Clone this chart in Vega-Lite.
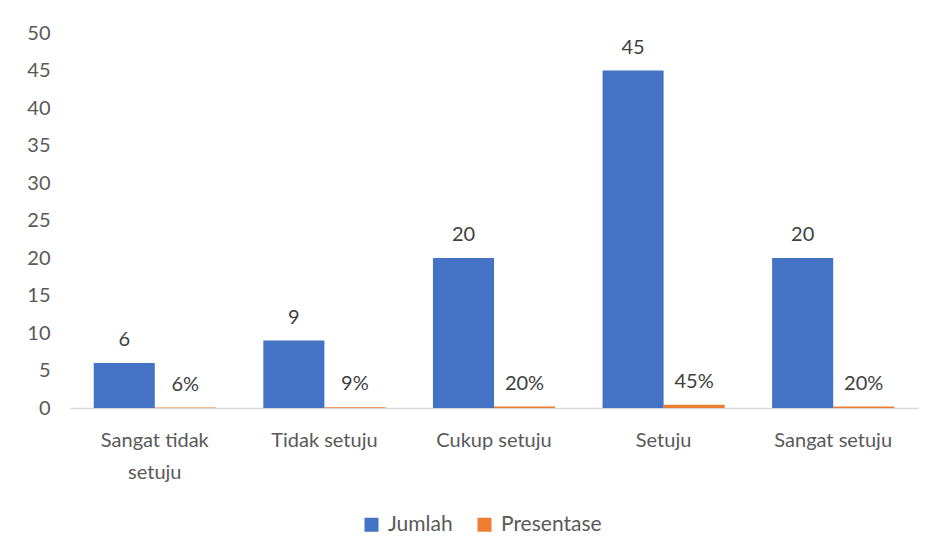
{
  "$schema": "https://vega.github.io/schema/vega-lite/v6.json",
  "autosize": "none",
  "width": 848,
  "height": 375,
  "padding": {"left": 70, "top": 33, "right": 16, "bottom": 148},
  "background": "white",
  "config": {"view": {"stroke": null}, "font": "Lato"},
  "data": {"values": [
    {"category": "Sangat tidak setuju", "series": "Jumlah", "value": 6, "label": "6"},
    {"category": "Sangat tidak setuju", "series": "Presentase", "value": 0.06, "label": "6%"},
    {"category": "Tidak setuju", "series": "Jumlah", "value": 9, "label": "9"},
    {"category": "Tidak setuju", "series": "Presentase", "value": 0.09, "label": "9%"},
    {"category": "Cukup setuju", "series": "Jumlah", "value": 20, "label": "20"},
    {"category": "Cukup setuju", "series": "Presentase", "value": 0.2, "label": "20%"},
    {"category": "Setuju", "series": "Jumlah", "value": 45, "label": "45"},
    {"category": "Setuju", "series": "Presentase", "value": 0.45, "label": "45%"},
    {"category": "Sangat setuju", "series": "Jumlah", "value": 20, "label": "20"},
    {"category": "Sangat setuju", "series": "Presentase", "value": 0.2, "label": "20%"}
  ]},
  "encoding": {
    "x": {
      "field": "category", "type": "nominal", "sort": null, "title": null,
      "scale": {"paddingInner": 0.28, "paddingOuter": 0.14},
      "axis": {
        "labelAngle": 0, "labelFontSize": 20, "labelColor": "#595959",
        "labelPadding": 22, "ticks": false, "domainColor": "#d9d9d9", "domainWidth": 1.5,
        "labelLineHeight": 32,
        "labelExpr": "datum.value == 'Sangat tidak setuju' ? ['Sangat tidak', 'setuju'] : datum.value"
      }
    },
    "xOffset": {"field": "series", "type": "nominal", "scale": {"paddingInner": 0, "paddingOuter": 0}},
    "y": {
      "field": "value", "type": "quantitative", "title": null,
      "scale": {"domain": [0, 50], "nice": false},
      "axis": {"values": [0,5,10,15,20,25,30,35,40,45,50], "grid": false, "domain": false, "ticks": false,
               "labelFontSize": 20, "labelColor": "#595959", "labelPadding": 20}
    }
  },
  "layer": [
    {
      "mark": {"type": "bar"},
      "encoding": {
        "color": {
          "field": "series", "type": "nominal",
          "scale": {"domain": ["Jumlah", "Presentase"], "range": ["#4472C4", "#ED7D31"]},
          "legend": {
            "title": null, "orient": "none", "direction": "horizontal",
            "legendX": 291, "legendY": 481,
            "symbolType": "square", "symbolSize": 196, "symbolStrokeWidth": 0,
            "labelFontSize": 21, "labelColor": "#595959", "columnPadding": 21, "labelOffset": 6
          }
        }
      }
    },
    {
      "mark": {"type": "text", "fontSize": 20, "color": "#404040", "baseline": "middle", "dy": -23},
      "encoding": {"text": {"field": "label"}}
    }
  ]
}
